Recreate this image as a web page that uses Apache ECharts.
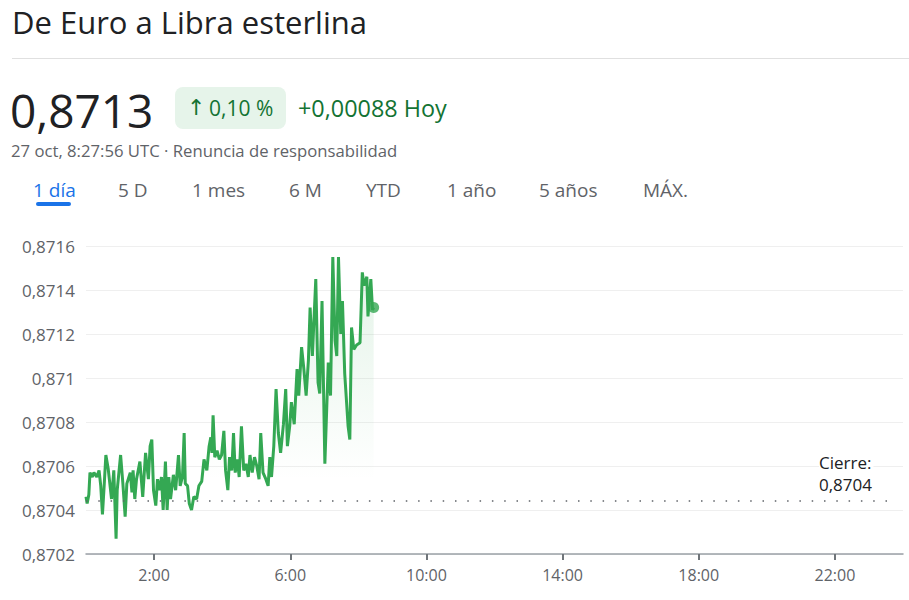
<!DOCTYPE html>
<html><head><meta charset="utf-8">
<script src="https://cdn.jsdelivr.net/npm/echarts@6/dist/echarts.min.js"></script>
<style>html,body{margin:0;padding:0;background:#fff}#c{width:909px;height:600px}</style>
</head><body><div id="c"></div>
<script>
// minutes since 0:00 UTC
const times = [0,2,5,7,11,14,19,23,26,29,32,35,39,45,49,53,55,61,65,69,72,78,81,83,86,89,95,100,105,110,113,116,119,123,126,130,133,136,140,143,146,149,154,158,163,166,170,173,175,179,182,186,190,195,199,204,208,213,217,220,222,224,227,231,235,239,243,246,250,253,257,260,263,267,270,274,278,282,286,289,293,297,301,305,308,312,317,321,324,327,331,335,339,343,348,352,355,359,362,367,372,375,380,384,388,392,395,399,405,409,412,416,421,427,431,435,439,442,445,449,452,456,459,462,465,468,472,477,483,487,490,495,497,502,505,507];
const values = [0.87046,0.87043,0.87047,0.87057,0.87055,0.87057,0.87055,0.87058,0.87051,0.87038,0.87051,0.87065,0.87059,0.87045,0.87058,0.87027,0.87049,0.87065,0.87052,0.87037,0.87052,0.87057,0.87048,0.87058,0.87045,0.87054,0.87062,0.87046,0.87066,0.87054,0.87069,0.87072,0.87049,0.87042,0.87054,0.87049,0.87055,0.87040,0.87062,0.87040,0.87055,0.87045,0.87056,0.87049,0.87065,0.87051,0.87055,0.87075,0.87052,0.87051,0.87043,0.87040,0.87046,0.87045,0.87051,0.87053,0.87063,0.87058,0.87069,0.87073,0.87066,0.87083,0.87064,0.87067,0.87063,0.87065,0.87076,0.87058,0.87049,0.87064,0.87058,0.87075,0.87057,0.87063,0.87055,0.87078,0.87058,0.87061,0.87055,0.87065,0.87057,0.87064,0.87060,0.87054,0.87075,0.87057,0.87054,0.87051,0.87064,0.87055,0.87069,0.87095,0.87075,0.87066,0.87079,0.87095,0.87069,0.87078,0.87089,0.87079,0.87104,0.87092,0.87114,0.87104,0.87092,0.87108,0.87132,0.87110,0.87145,0.87098,0.87093,0.87135,0.87061,0.87107,0.87092,0.87155,0.87117,0.87110,0.87155,0.87120,0.87135,0.87102,0.87090,0.87078,0.87072,0.87123,0.87113,0.87115,0.87116,0.87148,0.87142,0.87146,0.87128,0.87145,0.87131,0.87132];
const prevClose = 0.87044;
const xTickValues = [120,360,600,840,1080,1320];
const xTickLabels = ["2:00","6:00","10:00","14:00","18:00","22:00"];
const yTickLabels = ["0,8702","0,8704","0,8706","0,8708","0,871","0,8712","0,8714","0,8716"];
const tabs = ["1 día","5 D","1 mes","6 M","YTD","1 año","5 años","MÁX."];
const tabX = [33,118,192,289,366,447,539,643];

const FONT = '"Open Sans", Roboto, sans-serif';
const chart = echarts.init(document.getElementById('c'), null, {renderer:'svg', width:909, height:600});
const lineData = times.map((t,i)=>[t, values[i]]);
const last = lineData[lineData.length-1];

function txt(x, y, text, font, fill, extra) {
  return {type:'text', x:x, y:y, style:Object.assign({text:text, font:font, fill:fill, verticalAlign:'middle', align:'left'}, extra||{})};
}
const graphics = [
  txt(12, 22, 'De Euro a Libra esterlina', '400 31px '+FONT, '#202124'),
  {type:'rect', shape:{x:12,y:58,width:897,height:1}, style:{fill:'#e0e0e0'}},
  txt(10, 109.5, '0,8713', '400 46px '+FONT, '#202124'),
  {type:'rect', shape:{x:175,y:87,width:111,height:42,r:8}, style:{fill:'#e6f4ea'}},
  txt(187, 107, '↑', '400 22px "DejaVu Sans", sans-serif', '#137333'),
  txt(209, 107.5, '0,10 %', '500 21px '+FONT, '#137333'),
  txt(298, 108, '+0,00088 Hoy', '500 23.4px '+FONT, '#137333'),
  txt(11, 150.5, '27 oct, 8:27:56 UTC · Renuncia de responsabilidad', '400 16.7px '+FONT, '#5f6368'),
  {type:'rect', shape:{x:36,y:202,width:35,height:4,r:2}, style:{fill:'#1a73e8'}},
  txt(819, 462.5, 'Cierre:', '400 17px '+FONT, '#202124', {backgroundColor:'#fff', padding:[0,2,0,0]}),
  txt(819, 484, '0,8704', '400 17px '+FONT, '#202124', {backgroundColor:'#fff'})
];
tabs.forEach((t,i)=>graphics.push(txt(tabX[i], 189.5, t, '500 19px '+FONT, i===0?'#1a73e8':'#5f6368')));
graphics.forEach(g=>{g.z=100;});

chart.setOption({
  animation:false,
  textStyle:{fontFamily:FONT},
  grid:{left:86, right:6, top:246, bottom:46},
  xAxis:{type:'value', min:0, max:1440,
    axisLine:{lineStyle:{color:'#9aa0a6', width:1.5}},
    axisTick:{show:true, customValues:xTickValues, length:6, lineStyle:{color:'#70757a', width:2}},
    axisLabel:{customValues:xTickValues, formatter:(v)=>xTickLabels[xTickValues.indexOf(v)], color:'#5f6368', fontSize:16, margin:13, fontFamily:FONT},
    splitLine:{show:false}},
  yAxis:{type:'value', min:0.8702, max:0.8716, interval:0.0002,
    axisLine:{show:false}, axisTick:{show:false},
    axisLabel:{color:'#5f6368', fontSize:17, margin:11, fontFamily:FONT,
      formatter:(v)=>yTickLabels[Math.round((v-0.8702)/0.0002)]},
    splitLine:{lineStyle:{color:'#efefef', width:1}}},
  graphic:graphics,
  series:[
    {type:'line', data:lineData, symbol:'none', lineStyle:{color:'#34a853', width:3}, z:3,
     areaStyle:{color:new echarts.graphic.LinearGradient(0,0,0,1,[{offset:0,color:'rgba(52,168,83,0.2)'},{offset:0.75,color:'rgba(52,168,83,0)'}])},
     markLine:{silent:true, symbol:['none','none'], label:{show:false},
       lineStyle:{color:'#5f6368', type:[1.5,10.8], width:1.5},
       data:[[{coord:[0,prevClose]},{coord:[1417,prevClose]}]]}},
    {type:'scatter', data:[last], symbol:'circle', symbolSize:11, itemStyle:{color:'#34a853'}, z:4}
  ]
});
</script></body></html>
